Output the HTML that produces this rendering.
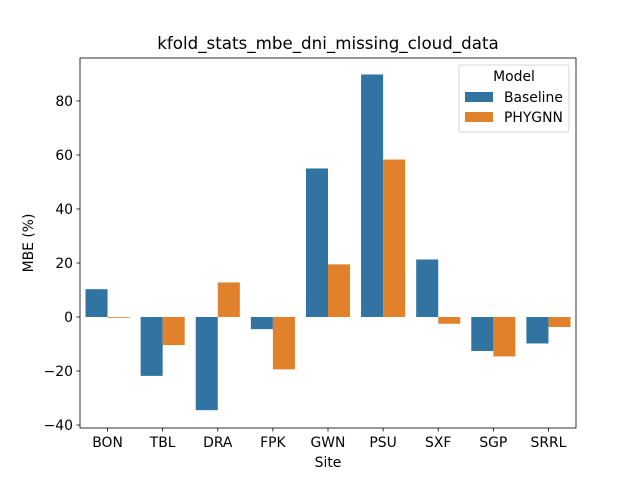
<!DOCTYPE html>
<html><head><meta charset="utf-8"><style>
body{margin:0;background:#fff;font-family:"Liberation Sans","DejaVu Sans",sans-serif;}
svg text{font-family:"DejaVu Sans","Liberation Sans",sans-serif;}
</style></head><body>
<svg id="chart" width="640" height="480" xmlns="http://www.w3.org/2000/svg">
<rect width="640" height="480" fill="#fff"/>
<g id="bars"></g>
<g id="axes"></g>
</svg>
<script>
const categories=["BON","TBL","DRA","FPK","GWN","PSU","SXF","SGP","SRRL"];
const baseline=[10.3,-21.8,-34.5,-4.5,55.0,89.8,21.3,-12.6,-9.8];
const phygnn=[-0.3,-10.4,12.8,-19.4,19.5,58.3,-2.5,-14.6,-3.7];
const yTicks=[-40,-20,0,20,40,60,80];
const seriesNames=["Baseline","PHYGNN"];
const colors=["#3274a1","#e1812c"];

const L=80,R=576,T=58,B=428,yMin=-41.1,yMax=95.9;
const ns="http://www.w3.org/2000/svg";
const y=v=>B-(v-yMin)/(yMax-yMin)*(B-T);
const bw=(R-L)/categories.length;
const x=i=>L+bw*(i+0.5);
function mk(tag,attrs,parent,txt){const e=document.createElementNS(ns,tag);for(const k in attrs)e.setAttribute(k,attrs[k]);if(txt!==undefined)e.textContent=txt;parent.appendChild(e);return e;}
const gb=document.getElementById('bars'),ga=document.getElementById('axes');
[baseline,phygnn].forEach((s,si)=>{
  s.forEach((v,i)=>{
    const w=bw*0.4;const x0=x(i)-w+si*w;
    const r=mk('rect',{x:x0,y:Math.min(y(v),y(0)),width:w,height:Math.abs(y(v)-y(0)),fill:colors[si]},gb);
    
    
  });
});
const frame=mk('rect',{x:L,y:T,width:R-L,height:B-T,fill:'none',stroke:'#000','stroke-width':0.8},ga);


yTicks.forEach(t=>{
  mk('line',{x1:L-3.5,x2:L,y1:y(t),y2:y(t),stroke:'#000','stroke-width':0.8},ga);
  const tx=mk('text',{x:L-7,y:y(t)+5,'text-anchor':'end','font-size':13.9},ga,t===0?'0':(t<0?'\u2212'+(-t):String(t)));
  
  
});
categories.forEach((c,i)=>{
  mk('line',{x1:x(i),x2:x(i),y1:B,y2:B+3.5,stroke:'#000','stroke-width':0.8},ga);
  const tx=mk('text',{x:x(i),y:B+19,'text-anchor':'middle','font-size':13.9},ga,c);
  
  
});
let e;
e=mk('text',{x:(L+R)/2,y:467,'text-anchor':'middle','font-size':13.9},ga,'Site');


e=mk('text',{x:33,y:(T+B)/2,'text-anchor':'middle','font-size':13.9,transform:'rotate(-90 33 '+(T+B)/2+')'},ga,'MBE (%)');


e=mk('text',{x:(L+R)/2,y:49,'text-anchor':'middle','font-size':16.7},ga,'kfold_stats_mbe_dni_missing_cloud_data');


const lg=mk('g',{},ga);


mk('rect',{x:459,y:65,width:110,height:67,rx:2,fill:'#fff','fill-opacity':0.8,stroke:'#ccc','stroke-width':0.8},lg);
mk('text',{x:514,y:81,'text-anchor':'middle','font-size':13.9},lg,'Model');
seriesNames.forEach((n,i)=>{
  const r=mk('rect',{x:465,y:92+i*20,width:28,height:10,fill:colors[i]},lg);
  
  
  const t=mk('text',{x:504,y:102+i*20,'font-size':13.9},lg,n);
  
  
});
</script>
</body></html>
